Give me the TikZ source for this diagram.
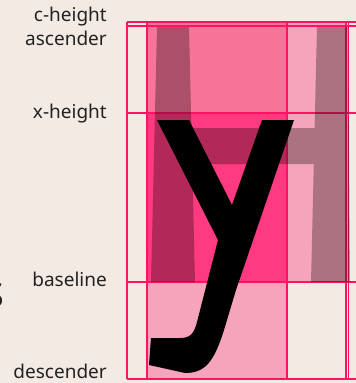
\documentclass[tikz,border=0pt]{standalone}
\usepackage{fontspec}
\setmainfont{Noto Sans}
\definecolor{bg}{HTML}{F3EAE4}
\definecolor{gridc}{HTML}{FF1464}
\definecolor{pinkmid}{HTML}{F77498}
\definecolor{pinkhot}{HTML}{FF3A80}
\definecolor{pinklight}{HTML}{F5A4BB}
\definecolor{txt}{HTML}{222222}
\begin{document}
\begin{tikzpicture}[x=1pt,y=-1pt,
  lbl/.style={anchor=base east, text=txt, font=\fontsize{19}{21}\selectfont, inner sep=0pt},
  gridline/.style={draw=gridc, line width=1.4pt}]
\useasboundingbox (0,0) rectangle (356,383);
\fill[bg] (0,0) rectangle (356,383);
% coloured cells
\fill[pinkmid] (147,22) rectangle (287,113);
\fill[pinkhot] (147,113) rectangle (287,282);
\fill[pinklight] (147,282) rectangle (287,379);
\fill[pinklight] (287,22) rectangle (346,282);
% grid lines
\foreach \yy in {22,26,113,282,379} \draw[gridline] (127,\yy) -- (356,\yy);
\foreach \xx in {127,147,287,346,348.5} \draw[gridline] (\xx,22) -- (\xx,379);
% translucent H
\fill[black, fill opacity=0.3] (157,27) -- (189,27) -- (191.4,128) -- (314.6,128) -- (317,27) -- (348,27) -- (350,282) -- (311,282) -- (313.8,164) -- (192.2,164) -- (195,282) -- (151,282) -- cycle;
% the y
\fill[black] (157,120) -- (189,120) -- (232,205) -- (262,120) -- (294,120) -- (236,290) -- (224,330)
  .. controls (214,362) and (205,373) .. (185,373) -- (149,365) -- (151,338) -- (180,338)
  .. controls (190,338) and (194,334) .. (197,322) -- (218,240) -- cycle;
% labels
\node[lbl] (ch) at (107,21) {c-height};
\node[lbl] (asc) at (107,45) {ascender};
\node[lbl] (xh) at (107,118) {x-height};
\node[lbl] (bl) at (107,286) {baseline};
\node[lbl] (desc) at (107,378.5) {descender};
% cut-off glyph at the left edge
\begin{scope}
\clip (0,0) rectangle (356,383);
\node[anchor=base east, text=txt, font=\fontsize{34}{34}\selectfont, inner sep=0pt] (cut) at (4.5,307) {S};
\end{scope}
\end{tikzpicture}
\end{document}
